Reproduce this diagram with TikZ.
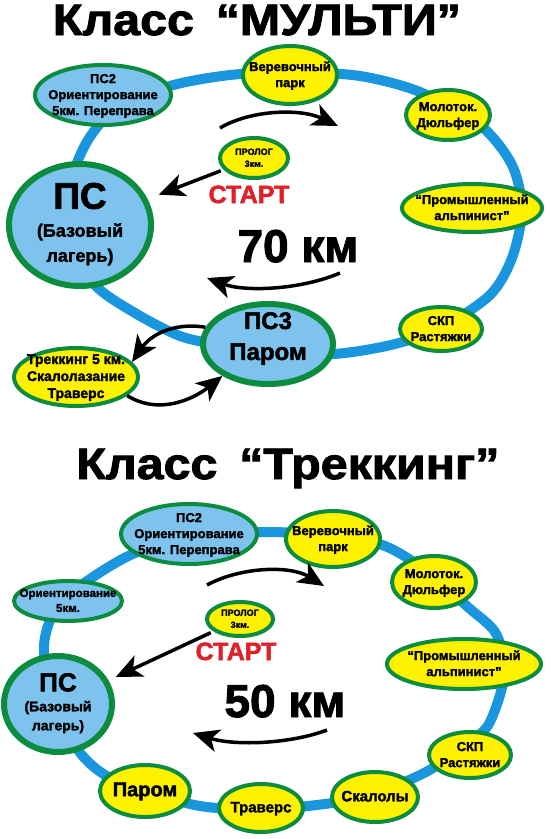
\documentclass[tikz,border=0pt]{standalone}
\usepackage{fontspec}
\setmainfont{Liberation Sans}[BoldFeatures={FakeBold=2}]
\usetikzlibrary{arrows.meta,shapes.geometric}

\definecolor{ringblue}{RGB}{25,150,222}
\definecolor{campblue}{RGB}{125,195,238}
\definecolor{rimgreen}{RGB}{12,140,62}
\definecolor{startred}{RGB}{222,32,40}

% text of a stage, kept out of the size of its ellipse
\newcommand{\txt}[2][-.3em]{\smash{\makebox[0pt]{\raisebox{#1}{\begin{tabular}{@{}c@{}}#2\end{tabular}}}}}

\tikzset{
  stage/.style={ellipse, draw=rimgreen, line width=4pt, fill=yellow, inner sep=0pt,
    font=\bfseries\fontsize{13}{16}\selectfont},
  camp/.style={stage, fill=campblue},
  bigcamp/.style={camp, line width=6pt},
  sz/.style 2 args={minimum width=#1pt, minimum height=#2pt},
  track/.style={draw=ringblue, line width=10pt},
  flow/.style={line width=3.5pt, -{Stealth[length=26pt,width=23pt,inset=7pt]}},
  heading/.style={font=\bfseries\fontsize{44}{44}\selectfont, anchor=base},
  kmtext/.style={font=\bfseries\fontsize{46}{46}\selectfont, anchor=base},
  starttext/.style={font=\bfseries\fontsize{25}{25}\selectfont, text=startred, anchor=base}
}

\begin{document}
\begin{tikzpicture}[x=1pt,y=-1pt]
\useasboundingbox (0,0) rectangle (557,839);

% Класс МУЛЬТИ
\node[heading] (title1) at (257,35) {\scalebox{1.1}[1]{Класс\hspace{.45em}“МУЛЬТИ”}};
\draw[track] plot[smooth cycle] coordinates {(291,72) (360,76) (420,92) (480,125) (512,165)
  (522,210) (512,258) (490,295) (441,328) (395,344) (345,353) (300,355) (266,352)
  (220,345) (180,336) (135,313) (95,285) (70,240) (72,180) (88,140) (115,110) (170,86) (230,75)};
\node[camp,sz={136}{60}] (ps2a) at (103,95) {\txt{ПС2\\Ориентирование\\5км. Переправа}};
\node[stage,sz={94}{58}] (rope1) at (290,75) {\txt{Веревочный\\парк}};
\node[stage,sz={84}{50}] (hammer1) at (448,115) {\txt{Молоток.\\Дюльфер}};
\node[stage,sz={68}{40},font=\bfseries\fontsize{9}{12}\selectfont] (prolog1) at (254,158) {\txt{ПРОЛОГ\\3км.}};
\node[bigcamp,sz={142}{122},font=\bfseries\fontsize{18}{25}\selectfont] (base1) at (80,225)
  {\txt{{\fontsize{37}{37}\selectfont ПС}\\[3pt](Базовый\\лагерь)}};
\node[stage,sz={140}{48}] (alp1) at (472,208) {\txt{“Промышленный\\альпинист”}};
\node[bigcamp,sz={130}{80},font=\bfseries\fontsize{24}{31}\selectfont] (ps3) at (268,344) {\txt[-.5pt]{ПС3\\Паром}};
\node[stage,sz={82}{44}] (skp1) at (441,329) {\txt{СКП\\Растяжки}};
\node[stage,sz={124}{58},font=\bfseries\fontsize{14}{17}\selectfont] (trek) at (76,377)
  {\txt{Треккинг 5 км.\\Скалолазание\\Траверс}};
\node[starttext] (start1) at (249,203) {СТАРТ};
\node[kmtext] (km70) at (298,262) {70 км};

\coordinate (go1) at (220,128);
\coordinate (go1end) at (338,126);
\coordinate (back1) at (340,273);
\coordinate (back1end) at (207,278);
\draw[flow] (go1) .. controls (250,110) and (300,108) .. (go1end);
\draw[flow] (back1) .. controls (300,290) and (245,292) .. (back1end);
\draw[flow,shorten <=3pt,shorten >=12pt] (prolog1) -- (base1);
\draw[flow] (ps3.165) .. controls (172,322) and (150,336) .. (trek.15);
\draw[flow] (trek.-20) .. controls (160,416) and (195,398) .. (ps3.215);

% Класс Треккинг
\node[heading] (title2) at (288,479) {\scalebox{1.1}[1]{Класс\hspace{.45em}“Треккинг”}};
\draw[track] plot[smooth cycle] coordinates {(270,532) (340,537) (385,546) (425,570)
  (469,608) (495,632) (505,665) (500,695) (487,727) (465,745) (433,768) (405,782)
  (370,797) (300,807) (260,810) (200,806) (145,791) (105,775) (78,750) (52,700)
  (44,645) (58,605) (93,577) (135,553) (190,537)};
\node[camp,sz={136}{60}] (ps2b) at (189,534) {\txt{ПС2\\Ориентирование\\5км. Переправа}};
\node[stage,sz={94}{56}] (rope2) at (333,539) {\txt{Веревочный\\парк}};
\node[stage,sz={84}{52}] (hammer2) at (434,582) {\txt{Молоток.\\Дюльфер}};
\node[camp,sz={108}{40},font=\bfseries\fontsize{11.5}{15}\selectfont] (orient) at (68,601) {\txt{Ориентирование\\5км.}};
\node[stage,sz={66}{34},font=\bfseries\fontsize{9}{12}\selectfont] (prolog2) at (240,619) {\txt{ПРОЛОГ\\3км.}};
\node[bigcamp,sz={108}{96},font=\bfseries\fontsize{14}{19}\selectfont] (base2) at (58,704)
  {\txt{{\fontsize{26}{26}\selectfont ПС}\\[1pt](Базовый\\лагерь)}};
\node[stage,sz={154}{50}] (alp2) at (464,664) {\txt{“Промышленный\\альпинист”}};
\node[stage,sz={82}{46}] (skp2) at (470,755) {\txt{СКП\\Растяжки}};
\node[stage,sz={86}{50},font=\bfseries\fontsize{15}{17}\selectfont] (rocks) at (375,797) {\txt{Скалолы}};
\node[stage,sz={84}{48},font=\bfseries\fontsize{15}{17}\selectfont] (trav) at (261,808) {\txt{Траверс}};
\node[stage,sz={90}{52},font=\bfseries\fontsize{20}{22}\selectfont] (ferry) at (145,791) {\txt{Паром}};
\node[starttext] (start2) at (236,660) {СТАРТ};
\node[kmtext] (km50) at (285,717) {50 км};

\coordinate (go2) at (207,585);
\coordinate (go2end) at (324,586);
\coordinate (back2) at (327,730);
\coordinate (back2end) at (193,733);
\draw[flow] (go2) .. controls (240,567) and (290,565) .. (go2end);
\draw[flow] (back2) .. controls (290,744) and (235,746) .. (back2end);
\draw[flow,shorten <=3pt,shorten >=8pt] (prolog2) -- (base2);
\end{tikzpicture}
\end{document}
